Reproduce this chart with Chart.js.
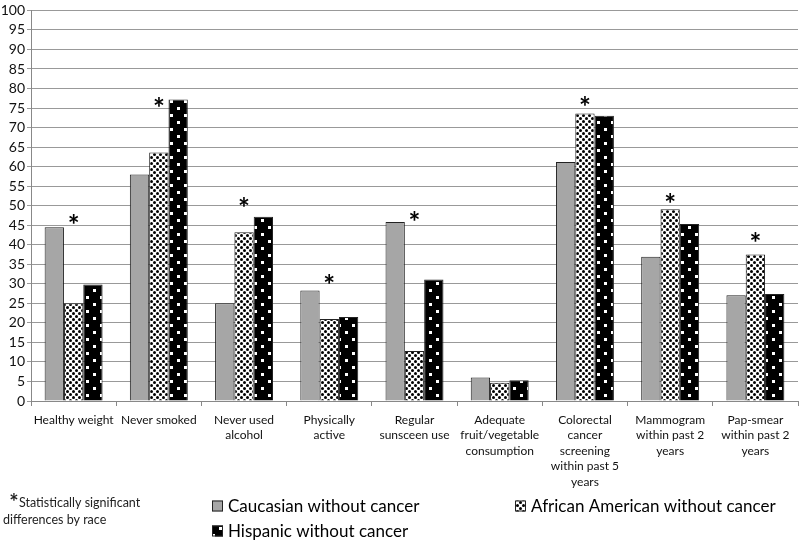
<!DOCTYPE html>
<html>
<head>
<meta charset="utf-8">
<script src="https://cdn.jsdelivr.net/npm/chart.js@4.4.1/dist/chart.umd.min.js"></script>
<style>
  html, body { margin: 0; padding: 0; background: #ffffff; }
  #wrap { width: 800px; height: 541px; }
</style>
</head>
<body>
<div id="wrap"><canvas id="c" width="800" height="541"></canvas></div>
<script>
// ---- Data ----
const categories = [
  ["Healthy weight"],
  ["Never smoked"],
  ["Never used", "alcohol"],
  ["Physically", "active"],
  ["Regular", "sunsceen use"],
  ["Adequate", "fruit/vegetable", "consumption"],
  ["Colorectal", "cancer", "screening", "within past 5", "years"],
  ["Mammogram", "within past 2", "years"],
  ["Pap-smear", "within past 2", "years"]
];
const seriesNames = ["Caucasian without cancer", "African American without cancer", "Hispanic without cancer"];
const caucasian       = [44.5, 58.0, 25.0, 28.3, 45.8, 6.0, 61.2, 36.9, 27.1];
const africanAmerican = [25.0, 63.6, 43.2, 21.0, 12.8, 4.7, 73.6, 49.1, 37.5];
const hispanic        = [29.8, 77.2, 47.2, 21.5, 31.1, 5.3, 73.0, 45.3, 27.4];
// heights (in % units) where the significance asterisk sits; null = not significant
const significanceMarks = [46.6, 76.6, 51.0, 31.2, 47.4, null, 76.8, 51.9, 42.0];
const yMin = 0, yMax = 100, yStep = 5;
const footnoteLines = ["Statistically significant", "differences by race"];

const FONT = "Lato, 'Open Sans', sans-serif";

// ---- Patterns ----
function makeDotPattern() {
  const t = document.createElement('canvas');
  t.width = 6; t.height = 6;
  const g = t.getContext('2d');
  g.fillStyle = '#ffffff'; g.fillRect(0, 0, 6, 6);
  g.fillStyle = '#000000';
  g.beginPath(); g.arc(1.5, 1.5, 1.5, 0, Math.PI * 2); g.fill();
  g.beginPath(); g.arc(4.5, 4.5, 1.5, 0, Math.PI * 2); g.fill();
  return g.createPattern(t, 'repeat');
}
function makeBlackSquarePattern() {
  const t = document.createElement('canvas');
  t.width = 14; t.height = 14;
  const g = t.getContext('2d');
  g.fillStyle = '#000000'; g.fillRect(0, 0, 14, 14);
  g.fillStyle = '#ffffff';
  g.fillRect(2, 2, 3, 3);
  g.fillRect(9, 9, 3, 3);
  return g.createPattern(t, 'repeat');
}
const fills = ['#a6a6a6', makeDotPattern(), makeBlackSquarePattern()];

// ---- Plugins ----
function drawCenteredAsterisk(ctx, x, yCenter) {
  const m = ctx.measureText('*');
  const y = yCenter + (m.actualBoundingBoxAscent - m.actualBoundingBoxDescent) / 2;
  ctx.fillText('*', x, y);
}
const asteriskPlugin = {
  id: 'asterisks',
  afterDatasetsDraw(chart) {
    const ctx = chart.ctx, xs = chart.scales.x, ys = chart.scales.y;
    ctx.save();
    ctx.fillStyle = '#000';
    ctx.font = 'bold 28px ' + FONT;
    ctx.textAlign = 'center';
    ctx.textBaseline = 'alphabetic';
    significanceMarks.forEach((v, i) => {
      if (v == null) return;
      drawCenteredAsterisk(ctx, xs.getPixelForValue(i), ys.getPixelForValue(v));
    });
    ctx.restore();
  }
};

const legendPlugin = {
  id: 'customLegend',
  afterDraw(chart) {
    const ctx = chart.ctx;
    ctx.save();
    // footnote
    ctx.fillStyle = '#222';
    ctx.textAlign = 'center';
    ctx.textBaseline = 'alphabetic';
    ctx.font = 'bold 22px ' + FONT;
    drawCenteredAsterisk(ctx, 14, 497);
    ctx.textAlign = 'left';
    ctx.textBaseline = 'middle';
    ctx.font = '12.5px ' + FONT;
    ctx.fillText(footnoteLines[0], 19, 503);
    ctx.fillText(footnoteLines[1], 3, 520);
    // legend entries
    const pos = [[212, 506], [515, 506], [212, 531]];
    ctx.font = '17px ' + FONT;
    chart.data.datasets.forEach((ds, i) => {
      const [x, y] = pos[i];
      ctx.fillStyle = ds.backgroundColor;
      ctx.fillRect(x, y - 5.5, 11, 11);
      ctx.strokeStyle = '#222';
      ctx.lineWidth = 1;
      ctx.strokeRect(x + 0.5, y - 5, 10, 10);
      ctx.fillStyle = '#000';
      ctx.fillText(ds.label, x + 16, y + 1);
    });
    ctx.restore();
  }
};

// ---- Chart ----
new Chart(document.getElementById('c'), {
  type: 'bar',
  data: {
    labels: categories,
    datasets: [
      { label: seriesNames[0], data: caucasian, backgroundColor: fills[0] },
      { label: seriesNames[1], data: africanAmerican, backgroundColor: fills[1] },
      { label: seriesNames[2], data: hispanic, backgroundColor: fills[2] }
    ].map(d => Object.assign(d, {
      borderColor: '#222', borderWidth: 1, borderSkipped: 'bottom',
      categoryPercentage: 0.68, barPercentage: 1.0
    }))
  },
  options: {
    responsive: false,
    animation: false,
    devicePixelRatio: 1,
    layout: { autoPadding: false, padding: { top: 4, right: 2, left: 0, bottom: 0 } },
    plugins: {
      legend: { display: false },
      tooltip: { enabled: false }
    },
    scales: {
      x: {
        grid: { display: true, drawOnChartArea: false, drawTicks: true, tickLength: 5, offset: true, color: '#888' },
        border: { color: '#888', width: 1 },
        ticks: {
          color: '#111', autoSkip: false, maxRotation: 0, minRotation: 0,
          padding: 6,
          font: { family: FONT, size: 12, lineHeight: 1.3 }
        },
        afterFit(s) { s.height = 140; }
      },
      y: {
        min: yMin, max: yMax,
        grid: { color: '#999', lineWidth: 1, drawTicks: true, tickLength: 4 },
        border: { color: '#888', width: 1 },
        ticks: {
          stepSize: yStep, autoSkip: false, color: '#111', padding: 2,
          font: { family: FONT, size: 14 }
        },
        afterFit(s) { s.width = 31; }
      }
    }
  },
  plugins: [asteriskPlugin, legendPlugin]
});
</script>
</body>
</html>
